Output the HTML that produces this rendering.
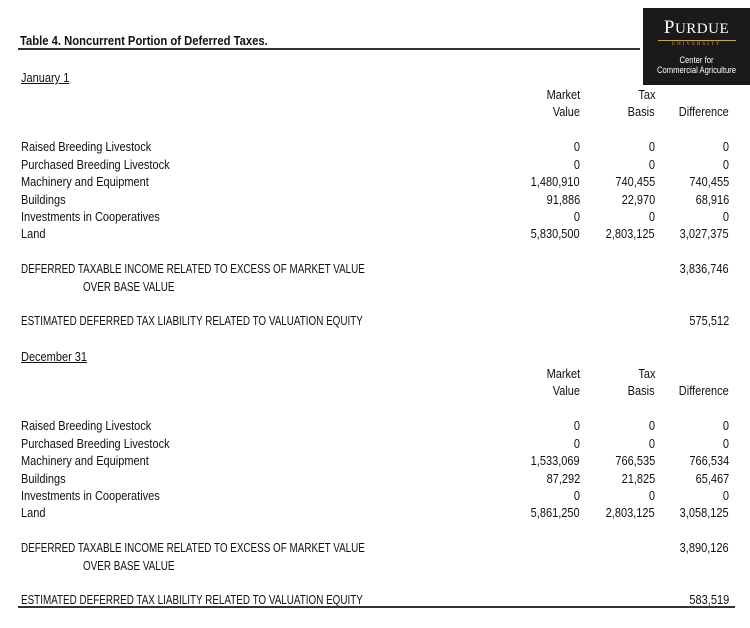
<!DOCTYPE html>
<html><head><meta charset="utf-8"><style>
body{margin:0;width:750px;height:628px;background:#fff;position:relative;font-family:"Liberation Sans",sans-serif;font-size:12.5px;color:#111;overflow:hidden}
.t{position:absolute;white-space:nowrap;line-height:14px;transform:scaleX(0.88);transform-origin:left center}
.t.up{transform:scaleX(0.79)}
.r{position:absolute;white-space:nowrap;line-height:14px;text-align:right;transform:scaleX(0.88);transform-origin:right center}
.u{text-decoration:underline}
</style></head><body>
<div class="t" style="left:20px;top:34px;font-weight:bold;font-size:12.5px;transform:scaleX(0.9)">Table 4.  Noncurrent Portion of Deferred Taxes.</div>
<div style="position:absolute;left:18px;top:48px;width:622px;height:2px;background:#333"></div>
<div style="position:absolute;left:643px;top:8px;width:107px;height:77px;background:#1a1a1a;color:#fff;text-align:center;font-family:'Liberation Serif',serif">
<div style="font-size:19px;margin-top:9px;letter-spacing:0.5px">P<span style="font-size:15px">URDUE</span></div>
<div style="width:78px;height:1px;background:#c9a54a;margin:1px auto 0"></div>
<div style="font-size:5px;color:#c9a54a;letter-spacing:2px;margin-top:1px">UNIVERSITY</div>
<div style="font-family:'Liberation Sans',sans-serif;font-size:9px;line-height:10px;margin-top:8px;transform:scaleX(0.85)">Center for<br>Commercial Agriculture</div>
</div>
<div id="c"></div>
<script>
var h='';
function t(x,y,s,c){h+='<div class="t '+(c||'')+'" style="left:'+x+'px;top:'+(y-6)+'px">'+s+'</div>';}
function r(x,y,s){h+='<div class="r" style="right:'+(750-x)+'px;top:'+(y-6)+'px">'+s+'</div>';}
function block(y0,head,d){
 t(21,y0,head,'u');
 r(580,y0+17,'Market');r(655,y0+17,'Tax');
 r(580,y0+34,'Value');r(655,y0+34,'Basis');r(729,y0+34,'Difference');
 var names=['Raised Breeding Livestock','Purchased Breeding Livestock','Machinery and Equipment','Buildings','Investments in Cooperatives','Land'];
 var ys=[69,87,104,122,139,156];
 for(var i=0;i<6;i++){t(21,y0+ys[i],names[i]);r(580,y0+ys[i],d[i][0]);r(655,y0+ys[i],d[i][1]);r(729,y0+ys[i],d[i][2]);}
 t(21,y0+191,'DEFERRED TAXABLE INCOME RELATED TO EXCESS OF MARKET VALUE','up');r(729,y0+191,d[6]);
 t(83,y0+209,'OVER BASE VALUE','up');
 t(21,y0+243,'ESTIMATED DEFERRED TAX LIABILITY RELATED TO VALUATION EQUITY','up');r(729,y0+243,d[7]);
}
block(77,'January 1',[['0','0','0'],['0','0','0'],['1,480,910','740,455','740,455'],['91,886','22,970','68,916'],['0','0','0'],['5,830,500','2,803,125','3,027,375'],'3,836,746','575,512']);
block(356,'December 31',[['0','0','0'],['0','0','0'],['1,533,069','766,535','766,534'],['87,292','21,825','65,467'],['0','0','0'],['5,861,250','2,803,125','3,058,125'],'3,890,126','583,519']);
document.getElementById('c').innerHTML=h;
</script>
<div style="position:absolute;left:18px;top:606px;width:717px;height:2px;background:#333"></div>
</body></html>
